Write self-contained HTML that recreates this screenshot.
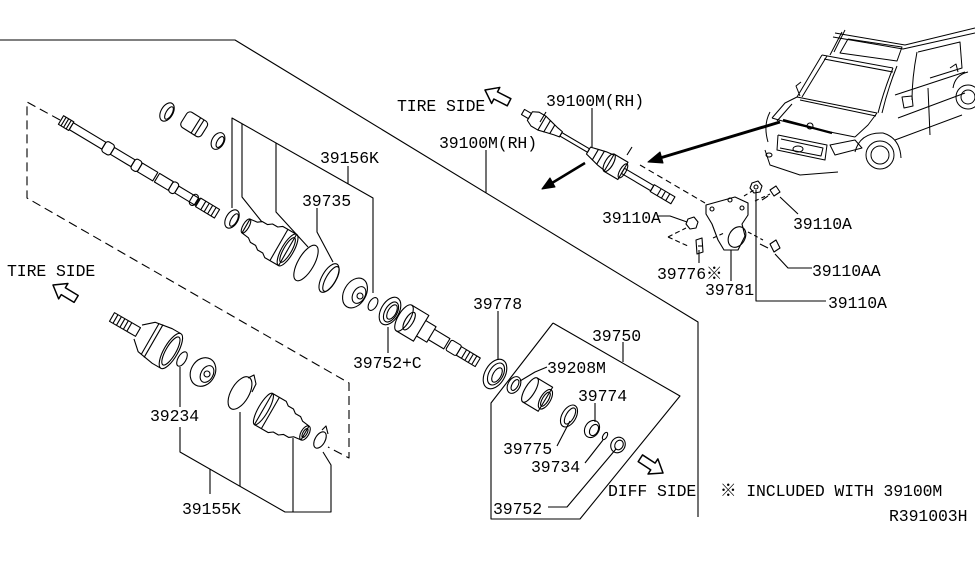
<!DOCTYPE html>
<html><head><meta charset="utf-8"><style>
html,body{margin:0;padding:0;background:#fff;}
svg{display:block;}
text{font-family:"Liberation Mono","DejaVu Sans Mono","Noto Sans CJK JP",monospace;font-size:16.5px;letter-spacing:-0.1px;fill:#000;}
</style></head><body>
<svg width="975" height="566" viewBox="0 0 975 566" xmlns="http://www.w3.org/2000/svg">
<g fill="none" stroke="#000" stroke-width="1.1" stroke-linejoin="round">

<!-- main outline -->
<polyline points="0,40 235,40 698,322 698,517"/>

<!-- dashed box -->
<g stroke-dasharray="9,5">
<polyline points="60,120 27,102 27,198 349,383 349,458 328,447"/>
</g>

<!-- 39156K bracket -->
<polyline points="232,208 232,118 373,198 373,293"/>
<polyline points="242,124 242,197 262,222"/>
<polyline points="276,143 276,212 308,247"/>
<line x1="348" y1="166" x2="348" y2="184"/>
<polyline points="317,208 317,232 333,262"/>
<line x1="388" y1="327" x2="388" y2="353"/>

<!-- 39155K bracket -->
<line x1="180" y1="367" x2="180" y2="407"/>
<polyline points="180,427 180,452 285,512 331,512 331,465 323,452"/>
<line x1="240" y1="486" x2="240" y2="412"/>
<line x1="293" y1="512" x2="293" y2="438"/>
<line x1="210" y1="469" x2="210" y2="494"/>

<!-- 39100M leader lines -->
<line x1="486" y1="150" x2="486" y2="193"/>
<line x1="592" y1="108" x2="592" y2="147"/>

<!-- 39750 polygon -->
<polyline points="553,323 680,396 580,519 491,519 491,403 553,323"/>
<line x1="623" y1="342" x2="623" y2="362"/>
<line x1="498" y1="311" x2="498" y2="360"/>
<polyline points="547,367 535,372 520,381"/>
<line x1="595" y1="403" x2="595" y2="422"/>
<line x1="557" y1="446" x2="570" y2="421"/>
<line x1="585" y1="463" x2="603" y2="440"/>
<polyline points="548,507 567,507 616,449"/>

<!-- shaft (top-left) -->
<g transform="translate(61,120) rotate(31)">
<rect x="0" y="-5" width="12" height="10"/>
<line x1="3" y1="-5" x2="3" y2="5"/><line x1="6" y1="-5" x2="6" y2="5"/><line x1="9" y1="-5" x2="9" y2="5"/>
<rect x="12" y="-4" width="38" height="8"/>
<rect x="50" y="-6" width="10" height="12" rx="3"/>
<rect x="60" y="-4" width="24" height="8"/>
<rect x="84" y="-6" width="8" height="12" rx="3"/>
<rect x="92" y="-5" width="18" height="10"/>
<rect x="112" y="-5" width="16" height="10"/>
<rect x="128" y="-6" width="7" height="12" rx="3"/>
<rect x="135" y="-4" width="24" height="8"/>
<rect x="152" y="-6" width="6" height="12" rx="3"/>
<rect x="160" y="-5" width="22" height="10"/>
<line x1="166" y1="-5" x2="166" y2="5"/><line x1="170" y1="-5" x2="170" y2="5"/><line x1="174" y1="-5" x2="174" y2="5"/><line x1="178" y1="-5" x2="178" y2="5"/>
</g>

<!-- small top-left parts -->
<ellipse cx="167" cy="112" rx="6" ry="10" transform="rotate(30 167 112)"/>
<ellipse cx="169" cy="113" rx="3" ry="7" transform="rotate(30 169 113)"/>
<g transform="translate(184,118) rotate(32)">
<rect x="0" y="-9" width="24" height="18" rx="4"/>
<line x1="14" y1="-9" x2="14" y2="9"/><line x1="18" y1="-9" x2="18" y2="9"/>
</g>
<ellipse cx="218" cy="141" rx="6" ry="9" transform="rotate(30 218 141)"/>
<ellipse cx="220" cy="142" rx="3" ry="6" transform="rotate(30 220 142)"/>

<!-- upper boot group -->
<ellipse cx="232" cy="219" rx="6" ry="10" transform="rotate(30 232 219)"/>
<ellipse cx="234" cy="220" rx="3" ry="7" transform="rotate(30 234 220)"/>
<g transform="translate(246,226) rotate(30)">
<path d="M0,-8 L8,-9 L12,-12 L18,-12 L22,-15 L28,-15 L32,-18 L48,-18 L48,18 L32,18 L28,15 L22,15 L18,12 L12,12 L8,9 L0,8 Z"/>
<ellipse cx="0" cy="0" rx="3" ry="8"/>
<ellipse cx="48" cy="0" rx="6" ry="18"/>
<ellipse cx="48" cy="0" rx="4" ry="14"/>
<line x1="38" y1="-18" x2="38" y2="18"/>
</g>
<ellipse cx="306" cy="263" rx="8" ry="20" transform="rotate(30 306 263)"/>
<ellipse cx="329" cy="278" rx="7" ry="16" transform="rotate(30 329 278)"/>
<ellipse cx="331" cy="279" rx="5" ry="14" transform="rotate(30 331 279)"/>
<ellipse cx="355" cy="293" rx="11" ry="16" transform="rotate(30 355 293)"/>
<ellipse cx="359" cy="295" rx="6" ry="9" transform="rotate(30 359 295)"/>
<circle cx="360" cy="296" r="3"/>
<ellipse cx="373" cy="304" rx="4" ry="7" transform="rotate(30 373 304)"/>
<ellipse cx="390" cy="311" rx="9" ry="15" transform="rotate(30 390 311)"/>
<ellipse cx="391" cy="312" rx="6" ry="11" transform="rotate(30 391 312)"/>
<ellipse cx="392" cy="312" rx="4" ry="8" transform="rotate(30 392 312)"/>

<!-- housing + stem -->
<g transform="translate(404,318) rotate(31)">
<ellipse cx="0" cy="0" rx="6" ry="15"/>
<path d="M0,-15 L20,-15 L20,15 L0,15"/>
<ellipse cx="6" cy="0" rx="4" ry="10"/>
<path d="M20,-9 L32,-9 L32,9 L20,9"/>
<path d="M32,-6 L50,-6 L50,6 L32,6"/>
<rect x="52" y="-6" width="12" height="12" rx="2"/>
<rect x="64" y="-5" width="22" height="10"/>
<line x1="70" y1="-5" x2="70" y2="5"/><line x1="74" y1="-5" x2="74" y2="5"/><line x1="78" y1="-5" x2="78" y2="5"/><line x1="82" y1="-5" x2="82" y2="5"/>
</g>

<!-- diff side parts -->
<ellipse cx="495" cy="374" rx="10" ry="16" transform="rotate(30 495 374)"/>
<ellipse cx="496" cy="374" rx="7" ry="12" transform="rotate(30 496 374)"/>
<ellipse cx="497" cy="375" rx="4" ry="8" transform="rotate(30 497 375)"/>
<ellipse cx="514" cy="385" rx="6" ry="9" transform="rotate(30 514 385)"/>
<ellipse cx="515" cy="385" rx="3" ry="6" transform="rotate(30 515 385)"/>
<g transform="translate(530,390) rotate(31)">
<ellipse cx="0" cy="0" rx="5" ry="14"/>
<path d="M0,-14 L18,-14 L18,14 L0,14"/>
<ellipse cx="18" cy="0" rx="5" ry="11"/>
<ellipse cx="18" cy="0" rx="3" ry="8"/>
</g>
<ellipse cx="569" cy="416" rx="7" ry="12" transform="rotate(30 569 416)"/>
<ellipse cx="570" cy="416" rx="4" ry="9" transform="rotate(30 570 416)"/>
<ellipse cx="592" cy="429" rx="7" ry="9" transform="rotate(30 592 429)"/>
<ellipse cx="594" cy="430" rx="4" ry="6" transform="rotate(30 594 430)"/>
<ellipse cx="605" cy="436" rx="2" ry="4" transform="rotate(30 605 436)"/>
<ellipse cx="618" cy="445" rx="7" ry="8" transform="rotate(30 618 445)"/>
<ellipse cx="619" cy="445" rx="4" ry="5" transform="rotate(30 619 445)"/>

<!-- lower outer joint -->
<g transform="translate(112,317) rotate(30)">
<rect x="0" y="-5" width="30" height="10"/>
<line x1="4" y1="-5" x2="4" y2="5"/><line x1="8" y1="-5" x2="8" y2="5"/><line x1="12" y1="-5" x2="12" y2="5"/><line x1="16" y1="-5" x2="16" y2="5"/><line x1="20" y1="-5" x2="20" y2="5"/>
<path d="M30,-8 L40,-17 L58,-20 L68,-20 M30,8 L40,17 L58,20 L68,20"/>
<line x1="44" y1="-18" x2="44" y2="18"/>
<line x1="48" y1="-19" x2="48" y2="19"/>
<ellipse cx="68" cy="0" rx="7" ry="20"/>
<ellipse cx="68" cy="0" rx="5" ry="16"/>
</g>
<ellipse cx="182" cy="359" rx="4" ry="8" transform="rotate(30 182 359)"/>
<ellipse cx="203" cy="372" rx="12" ry="15" transform="rotate(30 203 372)"/>
<ellipse cx="207" cy="374" rx="6" ry="9" transform="rotate(30 207 374)"/>
<circle cx="207" cy="374" r="3"/>
<ellipse cx="240" cy="393" rx="9" ry="18" transform="rotate(30 240 393)"/>
<path d="M248,378 L254,375 L256,384 L252,392"/>
<g transform="translate(305,433) rotate(210)">
<path d="M0,-8 L8,-9 L12,-12 L18,-12 L22,-15 L28,-15 L32,-18 L48,-18 L48,18 L32,18 L28,15 L22,15 L18,12 L12,12 L8,9 L0,8 Z"/>
<ellipse cx="0" cy="0" rx="4" ry="8"/>
<ellipse cx="0" cy="0" rx="2" ry="5"/>
<ellipse cx="48" cy="0" rx="5" ry="18"/>
<line x1="40" y1="-18" x2="40" y2="18"/>
</g>
<ellipse cx="320" cy="440" rx="5" ry="9" transform="rotate(30 320 440)"/>
<path d="M322,430 L326,426 L328,434"/>

<!-- TIRE SIDE / DIFF SIDE hollow arrows -->
<path transform="translate(53,285) rotate(211)" d="M0,0 L-12,-9 L-12,-4 L-27,-4 L-27,4 L-12,4 L-12,9 Z" stroke-width="1.5"/>
<path transform="translate(485,90) rotate(207)" d="M0,0 L-12,-9 L-12,-4 L-27,-4 L-27,4 L-12,4 L-12,9 Z" stroke-width="1.5"/>
<path transform="translate(663,473) rotate(33)" d="M0,0 L-12,-9 L-12,-4 L-27,-4 L-27,4 L-12,4 L-12,9 Z" stroke-width="1.5"/>

<!-- top small axle assembly -->
<g transform="translate(523,112) rotate(30.5)">
<rect x="0" y="-3" width="8" height="6"/>
<path d="M8,-5 L14,-8 L22,-8 L22,8 L14,8 L8,5 Z"/>
<path d="M22,-8 L30,-6 L38,-4 L44,-3 L44,3 L38,4 L30,6 L22,8"/>
<line x1="28" y1="-7" x2="28" y2="7"/><line x1="34" y1="-5" x2="34" y2="5"/>
<rect x="44" y="-2" width="32" height="4"/>
<path d="M76,-4 L84,-6 L92,-8 L100,-9 L100,9 L92,8 L84,6 L76,4 Z"/>
<line x1="84" y1="-6" x2="84" y2="6"/><line x1="90" y1="-8" x2="90" y2="8"/>
<ellipse cx="100" cy="0" rx="4" ry="10"/>
<path d="M100,-10 L116,-10 L116,10 L100,10"/>
<ellipse cx="116" cy="0" rx="3" ry="8"/>
<rect x="116" y="-3" width="34" height="6"/>
<rect x="150" y="-4" width="24" height="8"/>
<line x1="158" y1="-4" x2="158" y2="4"/><line x1="163" y1="-4" x2="163" y2="4"/><line x1="168" y1="-4" x2="168" y2="4"/>
</g>
<line x1="540" y1="122" x2="546" y2="112"/>
<line x1="627" y1="155" x2="632" y2="147"/>

<!-- dashed from axle to bracket -->
<line x1="640" y1="165" x2="705" y2="203" stroke-dasharray="6,4"/>
<polyline points="668,237 686,228" stroke-dasharray="5,3"/>
<polyline points="668,237 688,246" stroke-dasharray="5,3"/>
<line x1="713" y1="238" x2="724" y2="233" stroke-dasharray="4,3"/>
<line x1="744" y1="196" x2="754" y2="190" stroke-dasharray="4,3"/>
<line x1="755" y1="201" x2="770" y2="194" stroke-dasharray="4,3"/>
<line x1="748" y1="232" x2="763" y2="240" stroke-dasharray="4,3"/>

<!-- bracket 39781 -->
<path d="M706,205 L735,197 L748,203 L748,215 L742,224 L745,236 L738,250 L724,250 L718,240 L712,224 L706,214 Z"/>
<ellipse cx="737" cy="237" rx="8" ry="11" transform="rotate(30 737 237)"/>
<circle cx="712" cy="209" r="2"/><circle cx="742" cy="208" r="2"/><circle cx="730" cy="200" r="2"/>
<polygon points="752,183 758,181 762,186 760,192 754,193 750,188"/>
<circle cx="756" cy="187" r="2"/>
<path d="M770,190 L776,186 L780,192 L774,196 Z"/>
<line x1="768" y1="196" x2="762" y2="200"/>
<polygon points="688,219 694,217 698,222 696,228 690,229 686,224"/>
<path d="M770,244 L776,240 L780,248 L774,252 Z"/>
<line x1="768" y1="248" x2="760" y2="244"/>
<path d="M696,240 L702,238 L703,252 L697,254 Z"/>
<line x1="698" y1="246" x2="702" y2="246"/>

<!-- bracket leaders -->
<polyline points="657,216 670,216 687,222"/>
<line x1="699" y1="263" x2="699" y2="250"/>
<line x1="731" y1="281" x2="731" y2="250"/>
<line x1="798" y1="214" x2="780" y2="197"/>
<polyline points="812,268 788,268 775,254"/>
<polyline points="826,301 756,301 756,190"/>

<!-- car -->
<g stroke-width="1">
<polyline points="835,33 905,45 975,28"/>
<polyline points="833,37 903,49 975,33"/>
<polyline points="848,39 902,47 897,61 840,53 848,39"/>
<line x1="822" y1="55" x2="893" y2="68"/>
<line x1="824" y1="59" x2="893" y2="72"/>
<line x1="822" y1="55" x2="797" y2="97"/>
<line x1="827" y1="56" x2="802" y2="97"/>
<line x1="797" y1="97" x2="877" y2="113"/>
<line x1="800" y1="100" x2="876" y2="116"/>
<path d="M893,68 Q884,90 878,113"/>
<path d="M897,66 Q888,88 882,113"/>
<path d="M797,97 L785,103 L772,118"/>
<path d="M792,104 L777,121"/>
<path d="M772,118 Q795,125 835,133 L855,137"/>
<path d="M877,113 L868,125 L855,137"/>
<path d="M770,112 Q763,125 768,142"/>
<polyline points="778,135 827,145 825,160 777,150 778,135"/>
<polyline points="781,139 823,148 821,156 780,148"/>
<ellipse cx="798" cy="149" rx="5" ry="3"/>
<path d="M830,145 L855,140 L862,148 L835,155 Z"/>
<path d="M765,150 L770,165 L800,175 L838,172"/>
<ellipse cx="769" cy="155" rx="3" ry="2"/>
<path d="M855,152 Q860,132 883,133 Q900,138 901,158"/>
<circle cx="880" cy="155" r="14"/>
<circle cx="880" cy="155" r="9"/>
<path d="M953,88 Q955,75 968,72"/>
<circle cx="968" cy="97" r="12"/>
<circle cx="968" cy="97" r="7"/>
<path d="M917,52 Q912,78 912,100"/>
<line x1="928" y1="88" x2="930" y2="135"/>
<path d="M918,52 L960,42 L962,68 L930,78"/>
<line x1="895" y1="95" x2="965" y2="72"/>
<line x1="898" y1="118" x2="965" y2="93"/>
<line x1="895" y1="140" x2="962" y2="115"/>
<path d="M902,97 L912,96 L913,106 L904,108 Z"/>
<path d="M950,68 L956,64 L958,72"/>
<path d="M842,32 L830,55"/>
<path d="M845,30 L834,52"/>
<path d="M800,96 L796,86 L801,82"/>
</g>
<line x1="783" y1="120" x2="832" y2="133" stroke-width="2.2"/>
<circle cx="810" cy="126" r="3"/>

<!-- black arrows -->
<line x1="780" y1="122" x2="660" y2="158" stroke-width="3"/>
<polygon points="648,162 663,163 660,152" fill="#000"/>
<line x1="585" y1="163" x2="552" y2="183" stroke-width="2.5"/>
<polygon points="542,189 555,187 550,178" fill="#000"/>
</g>

<!-- labels -->
<text x="7" y="276">TIRE SIDE</text>
<text x="397" y="111">TIRE SIDE</text>
<text x="546" y="106">39100M(RH)</text>
<text x="439" y="148">39100M(RH)</text>
<text x="320" y="163">39156K</text>
<text x="302" y="206">39735</text>
<text x="353" y="368">39752+C</text>
<text x="473" y="309">39778</text>
<text x="592" y="341">39750</text>
<text x="547" y="373">39208M</text>
<text x="578" y="401">39774</text>
<text x="503" y="454">39775</text>
<text x="531" y="472">39734</text>
<text x="493" y="514">39752</text>
<text x="608" y="496">DIFF SIDE</text>
<text x="150" y="421">39234</text>
<text x="182" y="514">39155K</text>
<text x="602" y="223">39110A</text>
<text x="657" y="279">39776※</text>
<text x="705" y="295">39781</text>
<text x="793" y="229">39110A</text>
<text x="812" y="276">39110AA</text>
<text x="828" y="308">39110A</text>
<text x="720" y="496">※ INCLUDED WITH 39100M</text>
<text x="889" y="521">R391003H</text>
</svg>
</body></html>
